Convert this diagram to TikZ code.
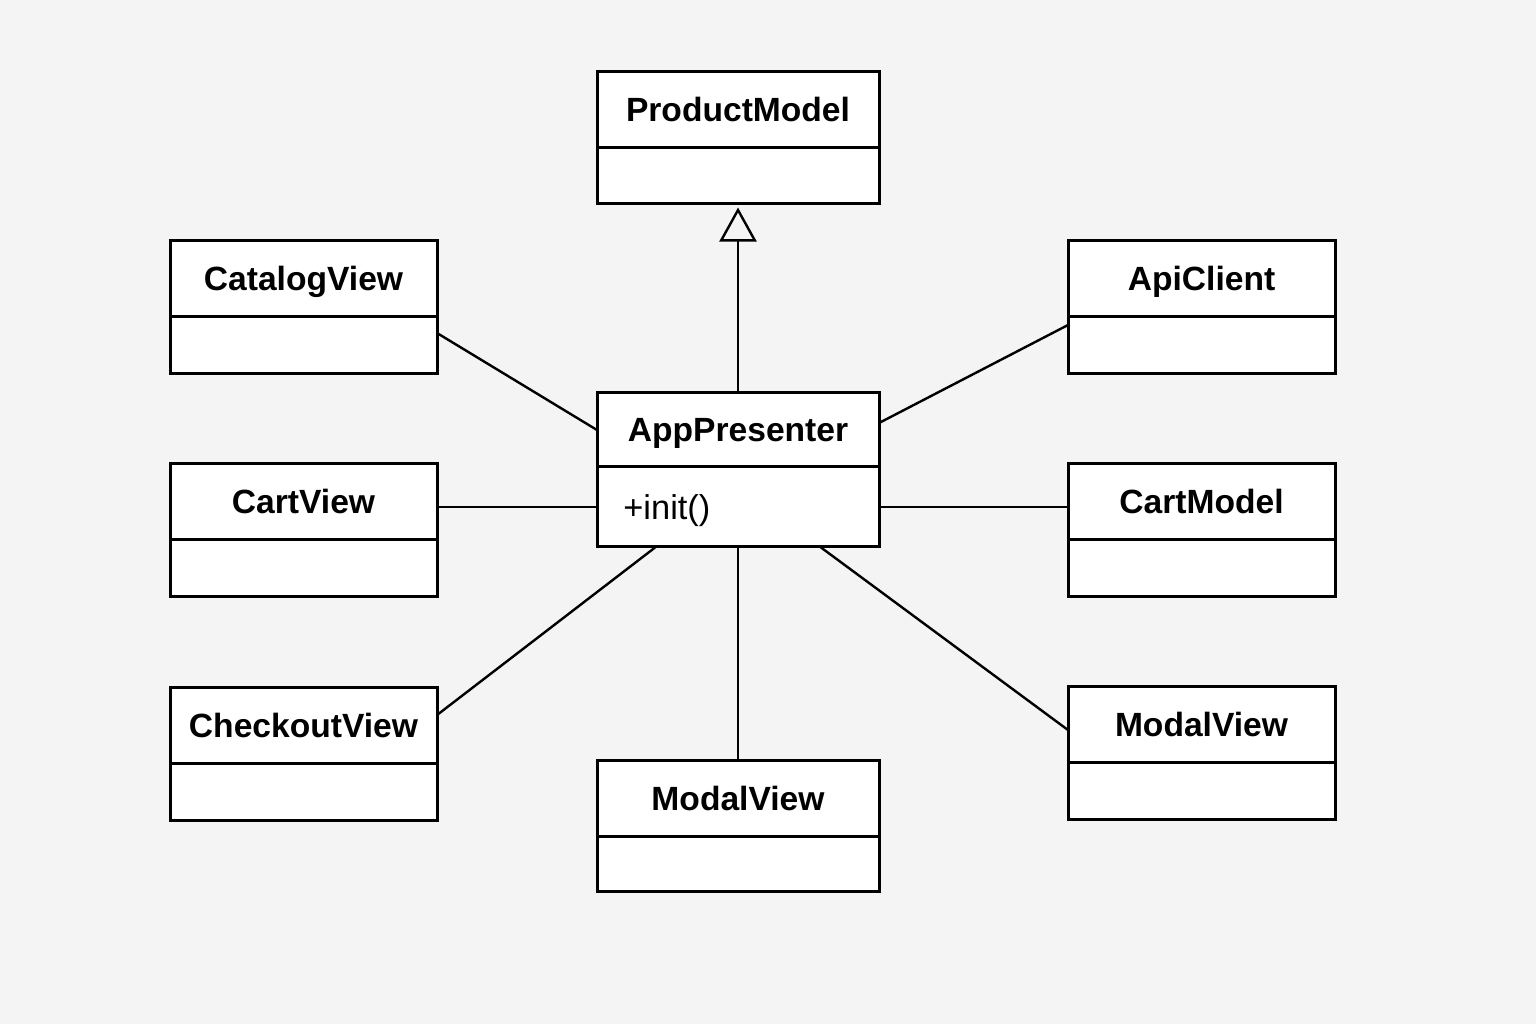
\documentclass[tikz,border=0pt]{standalone}
\usepackage{fontspec}
\setmainfont{Liberation Sans}
\usetikzlibrary{arrows.meta, positioning}

\definecolor{canvas}{HTML}{F4F4F4}

\begin{document}
\begin{tikzpicture}[
	x=0.5pt, y=-0.5pt,
	head/.style={rectangle, draw, line width=1.5pt, fill=white, outer sep=0pt,
		minimum height=38pt, text height=12.1pt, text depth=0pt,
		font=\fontsize{16.8}{20}\selectfont\bfseries},
	body/.style={rectangle, draw, line width=1.5pt, fill=white, outer sep=0pt,
		minimum height=28.5pt},
	side/.style={minimum width=133.5pt},
	mid/.style={minimum width=141pt},
	line/.style={draw, line width=1.2pt},
	inherit/.style={draw, line width=1.2pt, shorten >=2pt,
		-{Triangle[open, length=17pt, width=18.5pt, line width=1.2pt]}},
	]
	
	\fill [canvas] (0,0) rectangle (1536,1024);
	\useasboundingbox (0,0) rectangle (1536,1024);
	
	% centre column
	\node [head, mid] (pmh) at (738,109.5) {ProductModel};
	\node [body, mid, below=0pt of pmh, minimum height=28pt] (pmb) {};
	\node [head, mid, minimum height=37pt] (apph) at (738,429) {AppPresenter};
	\node [body, mid, below=0pt of apph, minimum height=40pt] (appb) {};
	\node [anchor=west, inner sep=0pt, text height=12.1pt, text depth=0pt,
		font=\fontsize{17.2}{20}\selectfont] (init) at ([xshift=13pt, yshift=-0.5pt]appb.west) {+init()};
	\node [head, mid] (mvh) at (738,798) {ModalView};
	\node [body, mid, below=0pt of mvh, minimum height=27.5pt] (mvb) {};
	
	% left column
	\node [head, side] (cath) at (303.5,278) {CatalogView};
	\node [body, side, below=0pt of cath] (catb) {};
	\node [head, side] (cvh) at (303.5,501) {CartView};
	\node [body, side, below=0pt of cvh] (cvb) {};
	\node [head, side] (coh) at (303.5,725) {CheckoutView};
	\node [body, side, below=0pt of coh] (cob) {};
	
	% right column
	\node [head, side] (apih) at (1201.5,278) {ApiClient};
	\node [body, side, below=0pt of apih] (apib) {};
	\node [head, side] (cmh) at (1201.5,501) {CartModel};
	\node [body, side, below=0pt of cmh] (cmb) {};
	\node [head, side] (mrh) at (1201.5,724) {ModalView};
	\node [body, side, below=0pt of mrh] (mrb) {};
	
	\path [inherit] (apph.north) -- (pmb.south);
	\path [line] ([yshift=5.75pt]catb.east) -- ([yshift=-0.5pt]apph.west);
	\path [line] ([yshift=9.75pt]apib.west) -- ([yshift=3pt]apph.east);
	\path [line] ([yshift=-3pt]cvh.east) -- ([yshift=-0.5pt]appb.west);
	\path [line] ([yshift=-3pt]cmh.west) -- ([yshift=-0.5pt]appb.east);
	\path [line] ([yshift=5pt]coh.east) -- ([xshift=-40.5pt]appb.south);
	\path [line] (mvh.north) -- (appb.south);
	\path [line] ([yshift=-3pt]mrh.west) -- ([xshift=40.5pt]appb.south);
\end{tikzpicture}
\end{document}
